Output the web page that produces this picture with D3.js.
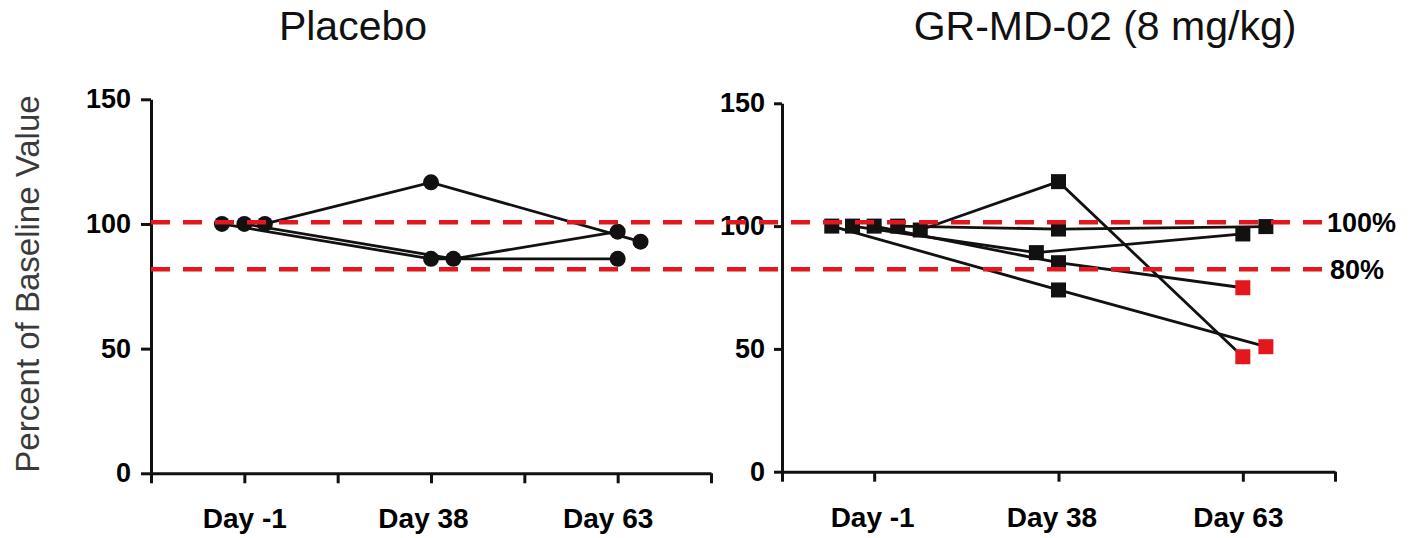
<!DOCTYPE html>
<html>
<head>
<meta charset="utf-8">
<script src="https://cdn.jsdelivr.net/npm/d3@7"></script>
<style>
  html, body { margin: 0; padding: 0; background: #fff; }
  svg { display: block; }
  text { font-family: "Liberation Sans", Arial, Helvetica, sans-serif; }
</style>
</head>
<body>
<svg id="chart" width="1420" height="538"></svg>
<script>
// ---------------- DATA ----------------
const days = ["Day -1", "Day 38", "Day 63"];
const daySlots = [1, 3, 5];                 // category slots on a 0..6 axis
const yTicks = [0, 50, 100, 150];
const panelTitles = ["Placebo", "GR-MD-02 (8 mg/kg)"];
const yAxisTitle = "Percent of Baseline Value";

// Placebo subjects: values at Day -1, Day 38, Day 63 (percent of baseline)
const placeboValues = [
  [100, 86.0, 86.0],
  [100, 86.0, 96.9],
  [100, 116.7, 92.9]
];
// horizontal jitter of each point (in slot units), as drawn
const placeboJitter = [
  [-0.24, 0, 0],
  [0, 0.24, 0],
  [0.22, 0, 0.245]
];

// GR-MD-02 subjects
const drugValues = [
  [100, 74.0, 50.9],
  [100, 89.2, 96.8],
  [100, 85.1, 74.9],
  [100, 98.8, 99.8],
  [98.4, 118.1, 46.8]
];
const drugJitter = [
  [-0.46, 0, 0.25],
  [-0.235, -0.24, 0],
  [0, 0, 0],
  [0.255, 0, 0.25],
  [0.5, 0, 0]
];

// reference lines (on the Placebo y scale)
const refLabels = ["100%", "80%"];
const refValues = [100.7, 81.8];
const redThreshold = 80;   // Day 63 values below this are red

// ---------------- DRAWING ----------------
const svg = d3.select("#chart");
const RED = "#e3171c";
const INK = "#111";

const xL = d3.scaleLinear().domain([0, 6]).range([151, 711]);
const yL = d3.scaleLinear().domain([0, 150]).range([473.3, 99.3]);
const xR = d3.scaleLinear().domain([0, 6]).range([782, 1335]);
const yR = d3.scaleLinear().domain([0, 150]).range([471.7, 103.3]);

const slotLabel = k => { const i = daySlots.indexOf(k); return i >= 0 ? days[i] : ""; };

function drawAxes(x, y, xTickVals, yTickSize, yPad, labelShift) {
  const gx = svg.append("g")
    .attr("transform", `translate(0,${y(0)})`)
    .call(d3.axisBottom(x).tickValues(xTickVals).tickSize(10).tickSizeOuter(0)
      .tickPadding(25).tickFormat(slotLabel));
  gx.select(".domain").attr("stroke", INK).attr("stroke-width", 3);
  gx.selectAll(".tick line").attr("stroke", INK).attr("stroke-width", 3);
  gx.selectAll(".tick text").attr("font-size", 28).attr("font-weight", "bold")
    .attr("fill", "#000").attr("font-family", "Liberation Sans, Arial, sans-serif")
    .attr("dx", k => { const i = daySlots.indexOf(k); return i >= 0 ? labelShift[i] : 0; });

  const gy = svg.append("g")
    .attr("transform", `translate(${x(0)},0)`)
    .call(d3.axisLeft(y).tickValues(yTicks).tickSize(yTickSize).tickSizeOuter(0)
      .tickPadding(yPad));
  gy.select(".domain").attr("stroke", INK).attr("stroke-width", 3);
  gy.selectAll(".tick line").attr("stroke", INK).attr("stroke-width", 3);
  gy.selectAll(".tick text").attr("font-size", 27).attr("font-weight", "bold")
    .attr("fill", "#000").attr("font-family", "Liberation Sans, Arial, sans-serif");
}

drawAxes(xL, yL, [0, 1, 2, 3, 4, 5, 6], 10, 10, [0, -8, -10]);
drawAxes(xR, yR, [0, 1, 3, 5, 6], 8, 9, [-2, -7, -5]);

// lines + markers
function drawSubjects(values, jitter, x, y, shape) {
  const g = svg.append("g");
  const pts = values.map((row, s) => row.map((v, d) => ({
    x: x(daySlots[d] + jitter[s][d]), y: y(v), v, d
  })));
  const line = d3.line().x(p => p.x).y(p => p.y);
  g.selectAll("path.subj").data(pts).join("path")
    .attr("class", "subj")
    .attr("d", line)
    .attr("fill", "none").attr("stroke", INK).attr("stroke-width", 2.8);
  const flat = pts.flat();
  const col = p => (p.d === 2 && p.v < redThreshold) ? RED : INK;
  if (shape === "circle") {
    g.selectAll("circle").data(flat).join("circle")
      .attr("cx", p => p.x).attr("cy", p => p.y).attr("r", 8)
      .attr("fill", col);
  } else {
    const s = 15;
    g.selectAll("rect").data(flat).join("rect")
      .attr("x", p => p.x - s / 2).attr("y", p => p.y - s / 2)
      .attr("width", s).attr("height", s).attr("fill", col);
  }
}
drawSubjects(placeboValues, placeboJitter, xL, yL, "circle");
drawSubjects(drugValues, drugJitter, xR, yR, "square");

// red dashed reference lines across both panels
const refG = svg.append("g");
refG.selectAll("line").data(refValues).join("line")
  .attr("x1", xL(0)).attr("x2", 1323)
  .attr("y1", v => yL(v)).attr("y2", v => yL(v))
  .attr("stroke", RED).attr("stroke-width", 4.5)
  .attr("stroke-dasharray", "19 13");
refG.selectAll("text").data(refValues).join("text")
  .attr("x", (v, i) => i === 0 ? 1327 : 1330)
  .attr("y", v => yL(v))
  .attr("dy", "0.36em")
  .attr("font-size", 27).attr("font-weight", "bold").attr("fill", "#000")
  .text((v, i) => refLabels[i]);

// titles
svg.append("text").attr("x", 353).attr("y", 40).attr("text-anchor", "middle")
  .attr("font-size", 41).attr("fill", "#111").text(panelTitles[0]);
svg.append("text").attr("x", 1105).attr("y", 40).attr("text-anchor", "middle")
  .attr("font-size", 41).attr("fill", "#111").text(panelTitles[1]);

// y axis title
svg.append("text")
  .attr("transform", "translate(39,284) rotate(-90)")
  .attr("text-anchor", "middle")
  .attr("font-size", 33).attr("fill", "#3a3a3a")
  .text(yAxisTitle);
</script>
</body>
</html>
